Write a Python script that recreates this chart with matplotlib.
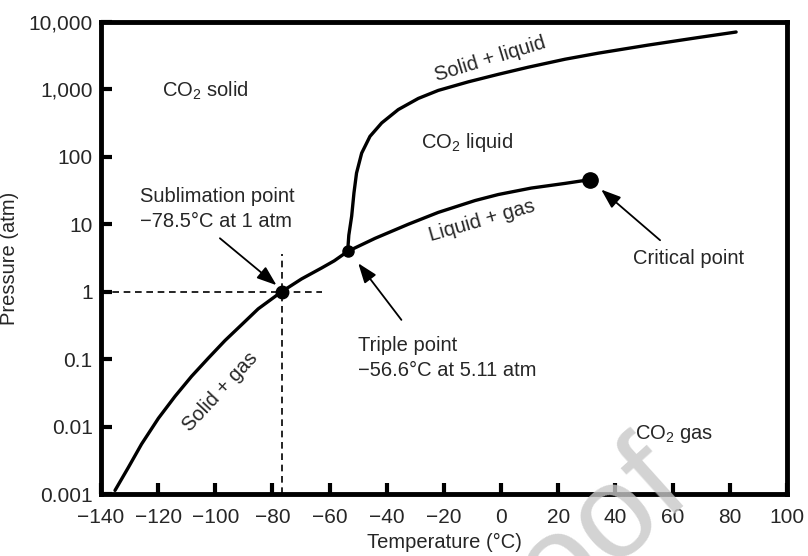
import numpy as np
import matplotlib
matplotlib.use('Agg')
import matplotlib.pyplot as plt

plt.rcParams['font.family'] = ['Liberation Sans', 'DejaVu Sans']
plt.rcParams['mathtext.fontset'] = 'custom'
plt.rcParams['mathtext.rm'] = 'Liberation Sans'
plt.rcParams['font.size'] = 14.5

# solid + gas boundary (sublimation curve), up to the triple point
sub_T = [-135.1, -130.4, -125.8, -119.9, -114.1, -108.3, -102.4, -96.6, -90.8, -85.0,
         -76.8, -69.8, -62.8, -58.4, -53.7]
sub_P = [0.00113, 0.00249, 0.00551, 0.0133, 0.0281, 0.0557, 0.104, 0.189, 0.324, 0.557,
         1.0, 1.55, 2.25, 2.87, 3.96]

# liquid + gas boundary, triple point -> critical point
vap_T = [-53.7, -44.1, -32.5, -22.0, -9.1, -1.0, 10.5, 22.4, 31.1]
vap_P = [3.96, 6.19, 10.0, 15.0, 22.5, 27.6, 34.4, 40.4, 45.9]

# solid + liquid boundary (melting curve)
melt_T = [-53.7, -53.3, -52.3, -51.5, -50.6, -48.8, -45.9, -41.8, -36.0, -29.0,
          -22.0, -11.5, -1.0, 9.4, 22.4, 34.0, 51.4, 68.9, 82.2]
melt_P = [3.96, 6.88, 13.2, 29.2, 57.5, 113.6, 201, 318, 502, 734,
          966, 1294, 1674, 2130, 2805, 3447, 4538, 5871, 7096]

# marked points
subl_pt = (-76.8, 1.0)
triple_pt = (-53.7, 3.96)
crit_pt = (31.1, 45.9)

xticks = [-140, -120, -100, -80, -60, -40, -20, 0, 20, 40, 60, 80, 100]
yticks = [0.001, 0.01, 0.1, 1, 10, 100, 1000, 10000]
ytick_labels = ['0.001', '0.01', '0.1', '1', '10', '100', '1,000', '10,000']

txt = '#262626'

fig = plt.figure(figsize=(8.08, 5.56), dpi=100)
ax = fig.add_axes([0.125, 0.1115, 0.849, 0.849])

for T, P in [(sub_T, sub_P), (vap_T, vap_P), (melt_T, melt_P)]:
    ax.plot(T, P, color='black', lw=2.4, solid_capstyle='round', solid_joinstyle='round')

ax.plot(*subl_pt, 'o', color='black', ms=9)
ax.plot(*triple_pt, 'o', color='black', ms=8)
ax.plot(*crit_pt, 'o', color='black', ms=11)

# dashed guides through the sublimation point
ax.plot([-140, -62.8], [1, 1], color='black', lw=1.2, ls=(0, (4, 2.8)))
ax.plot([subl_pt[0], subl_pt[0]], [0.001, 3.63], color='black', lw=1.2, ls=(0, (4, 2.8)))

ax.set_yscale('log')
ax.set_xlim(-140, 100)
ax.set_ylim(0.001, 10000)
ax.set_xticks(xticks)
ax.set_xticklabels(['\u2212' + str(-t) if t < 0 else str(t) for t in xticks])
ax.set_yticks(yticks)
ax.set_yticklabels(ytick_labels)
ax.minorticks_off()
ax.tick_params(direction='in', length=8, width=3, labelsize=15, labelcolor=txt, colors='black')
ax.tick_params(axis='x', pad=10)
ax.tick_params(axis='y', pad=6)
for s in ax.spines.values():
    s.set_linewidth(3.5)

ax.set_xlabel('Temperature (\u00b0C)', fontsize=14.5, labelpad=4, color=txt)
ax.set_ylabel('Pressure (atm)', fontsize=14.5, labelpad=7, color=txt)

# region and boundary labels
ax.text(-118.8, 944, 'CO$\\mathregular{_2}$ solid', ha='left', va='center', color=txt)
ax.text(-28.0, 162, 'CO$\\mathregular{_2}$ liquid', ha='left', va='center', color=txt)
ax.text(46.9, 0.0078, 'CO$\\mathregular{_2}$ gas', ha='left', va='center', color=txt)
ax.text(-3.8, 2805, 'Solid + liquid', ha='center', va='center', rotation=17, color=txt)
ax.text(-6.6, 11.1, 'Liquid + gas', ha='center', va='center', rotation=16, color=txt)
ax.text(-98.4, 0.0323, 'Solid + gas', ha='center', va='center', rotation=47, color=txt)

ax.text(-126.3, 16.6, 'Sublimation point\n\u221278.5\u00b0C at 1 atm', ha='left', va='center',
        color=txt, linespacing=1.4)
ax.text(-50.0, 0.104, 'Triple point\n\u221256.6\u00b0C at 5.11 atm', ha='left', va='center',
        color=txt, linespacing=1.4)
ax.text(65.4, 3.16, 'Critical point', ha='center', va='center', color=txt)

# pointer arrows
arrow = dict(arrowstyle='-|>,head_length=0.6,head_width=0.22', color='black', lw=1.3,
             mutation_scale=20, shrinkA=0, shrinkB=0)
ax.annotate('', xy=(-78.6, 1.25), xytext=(-98.4, 6.2), arrowprops=arrow)
ax.annotate('', xy=(-50.0, 2.64), xytext=(-34.9, 0.382), arrowprops=arrow)
ax.annotate('', xy=(35.0, 32.7), xytext=(55.6, 5.8), arrowprops=arrow)

# faint watermark
fig.text(692 / 808, 1 - 490 / 556, 'Proof', fontsize=95, color='#c8c8c8', alpha=0.8,
         rotation=42, rotation_mode='anchor', ha='right', va='baseline', zorder=10)

fig.savefig('out.png', dpi=100)
